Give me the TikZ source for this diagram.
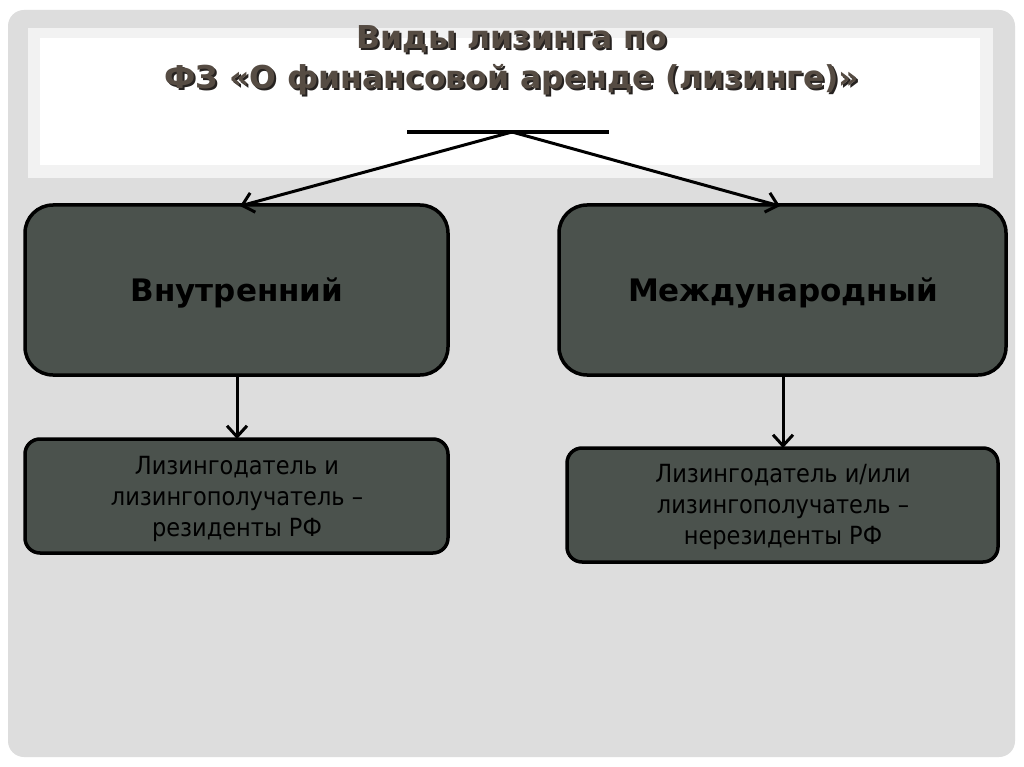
\documentclass[tikz,border=0pt]{standalone}
\usepackage{fontspec}
\setmainfont{DejaVu Sans}
\newfontfamily\titlefont{DejaVu Sans}
\newfontfamily\boxfont{DejaVu Sans}
\newfontfamily\smallfont[FakeStretch=0.90]{DejaVu Sans}
\usetikzlibrary{arrows.meta}
\definecolor{pagegray}{HTML}{DDDDDD}
\definecolor{bandgray}{HTML}{F2F2F2}
\definecolor{boxfill}{HTML}{4B524D}
\definecolor{titlecol}{HTML}{564C43}
\definecolor{titleshadow}{HTML}{262220}
\tikzset{
  bigbox/.style={draw=black, line width=3.5pt, fill=boxfill, rounded corners=28pt},
  smallbox/.style={draw=black, line width=3.5pt, fill=boxfill, rounded corners=15pt},
  conn/.style={line width=3pt, -{Straight Barb[length=11pt,width=20pt,line width=3pt]}},
  bigtext/.style={font=\boxfont\fontsize{31}{36}\selectfont\bfseries, text=black},
  smalltext/.style={font=\smallfont\fontsize{25}{31}\selectfont, text=black, align=center},
  ttl/.style={font=\titlefont\fontsize{31.5}{40}\selectfont\bfseries, align=center}
}
\begin{document}
\begin{tikzpicture}[x=1pt,y=-1pt]
\useasboundingbox (0,0) rectangle (1024,767);
\fill[white] (0,0) rectangle (1024,767);
\fill[pagegray, rounded corners=16pt] (8,10) rectangle (1015,757);
\fill[bandgray] (28,28) rectangle (993,178);
\fill[white] (40,38) rectangle (980,165);
% title
\node[ttl, text=titleshadow] (tshadow) at (514,62) {Виды лизинга по\\ФЗ «О финансовой аренде (лизинге)»};
\node[ttl, text=titlecol] (title) at (512,60) {Виды лизинга по\\ФЗ «О финансовой аренде (лизинге)»};
% bar
\coordinate (barL) at (407,132);
\coordinate (barR) at (609,132);
\coordinate (barM) at (512,132);
\draw[line width=4pt] (barL) -- (barR);
% boxes
\draw[bigbox] (25,205) rectangle (448,375);
\node[bigtext] (inner) at (237,293) {Внутренний};
\draw[bigbox] (559,205) rectangle (1006,375);
\node[bigtext] (intl) at (783,293) {Международный};
\draw[smallbox] (25,439) rectangle (448,553);
\node[smalltext] (res) at (237,499) {Лизингодатель и\\лизингополучатель –\\резиденты РФ};
\draw[smallbox] (567,448) rectangle (998,562);
\node[smalltext] (nonres) at (783,507) {Лизингодатель и/или\\лизингополучатель –\\нерезиденты РФ};
\coordinate (innerTop) at (240,206);
\coordinate (intlTop) at (780,206);
\coordinate (innerBot) at (237,375);
\coordinate (intlBot) at (783,375);
\coordinate (resTop) at (237,439);
\coordinate (nonresTop) at (783,448);
\draw[conn] (barM) -- (innerTop);
\draw[conn] (barM) -- (intlTop);
\draw[conn] (innerBot) -- (resTop);
\draw[conn] (intlBot) -- (nonresTop);
\end{tikzpicture}
\end{document}
